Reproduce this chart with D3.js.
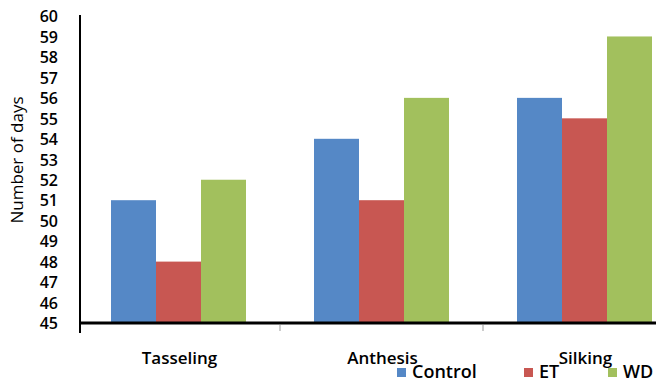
<!DOCTYPE html>
<html><head><meta charset="utf-8">
<script src="https://cdn.jsdelivr.net/npm/d3@7"></script>
<style>body{margin:0;background:#fff;} svg{display:block;} text{font-family:"Open Sans",sans-serif;fill:#000;}</style>
</head><body><svg id="c" width="656" height="384"></svg>
<script>
const categories = ["Tasseling", "Anthesis", "Silking"];
const seriesNames = ["Control", "ET", "WD"];
const control = [51, 54, 56];
const et = [48, 51, 55];
const wd = [52, 56, 59];
const colors = ["#5588C6", "#C85752", "#A2C05D"];
const yTicks = d3.range(45, 61, 1);

const series = [control, et, wd];
const svg = d3.select("#c");
const x = d3.scaleBand().domain(categories).range([77, 686]).paddingInner(0).paddingOuter(0);
const y = d3.scaleLinear().domain([45, 60]).range([323, 16]);
const inner = d3.scaleBand().domain(seriesNames).range([34, x.bandwidth() - 34]);

categories.forEach((c, ci) => {
  seriesNames.forEach((s, si) => {
    svg.append("rect")
      .attr("x", x(c) + inner(s))
      .attr("width", inner.bandwidth())
      .attr("y", y(series[si][ci]))
      .attr("height", y(45) - y(series[si][ci]))
      .attr("fill", colors[si]);
  });
});

// y axis
const ya = svg.append("g").attr("transform", "translate(80,0)")
  .call(d3.axisLeft(y).tickValues(yTicks).tickSize(0).tickPadding(22).tickFormat(d3.format("d")));
ya.select(".domain").remove();
ya.selectAll("text").attr("font-size", 16).attr("font-weight", 600).style("font-family", "'Open Sans', sans-serif").attr("fill", "#111").attr("dy", "0.36em");
svg.append("line").attr("x1", 80).attr("x2", 80).attr("y1", 15).attr("y2", 333).attr("stroke", "#000").attr("stroke-width", 2);

// x axis
const xa = svg.append("g").attr("transform", "translate(0,323)")
  .call(d3.axisBottom(x).tickSize(0).tickFormat(""));
xa.select(".domain").remove();
svg.append("line").attr("x1", 79).attr("x2", 656).attr("y1", 323).attr("y2", 323).attr("stroke", "#000").attr("stroke-width", 3);
categories.slice(1).forEach(c => {
  svg.append("line").attr("x1", x(c)).attr("x2", x(c)).attr("y1", 325).attr("y2", 331).attr("stroke", "#999").attr("stroke-width", 1);
});
categories.forEach(c => {
  svg.append("text").attr("x", x(c) + x.bandwidth() / 2 + 1).attr("y", 364)
    .attr("text-anchor", "middle").attr("font-size", 17).attr("font-weight", 600).text(c);
});

// axis title
svg.append("text").attr("transform", "translate(23,160) rotate(-90)")
  .attr("text-anchor", "middle").attr("font-size", 17).attr("font-weight", 500).text("Number of days");

// legend
const legX = [397, 524, 608];
seriesNames.forEach((s, i) => {
  svg.append("rect").attr("x", legX[i]).attr("y", 368).attr("width", 9).attr("height", 9).attr("fill", colors[i]);
  svg.append("text").attr("x", legX[i] + 15).attr("y", 378).attr("font-size", 18).attr("font-weight", 600).text(s);
});
</script></body></html>
